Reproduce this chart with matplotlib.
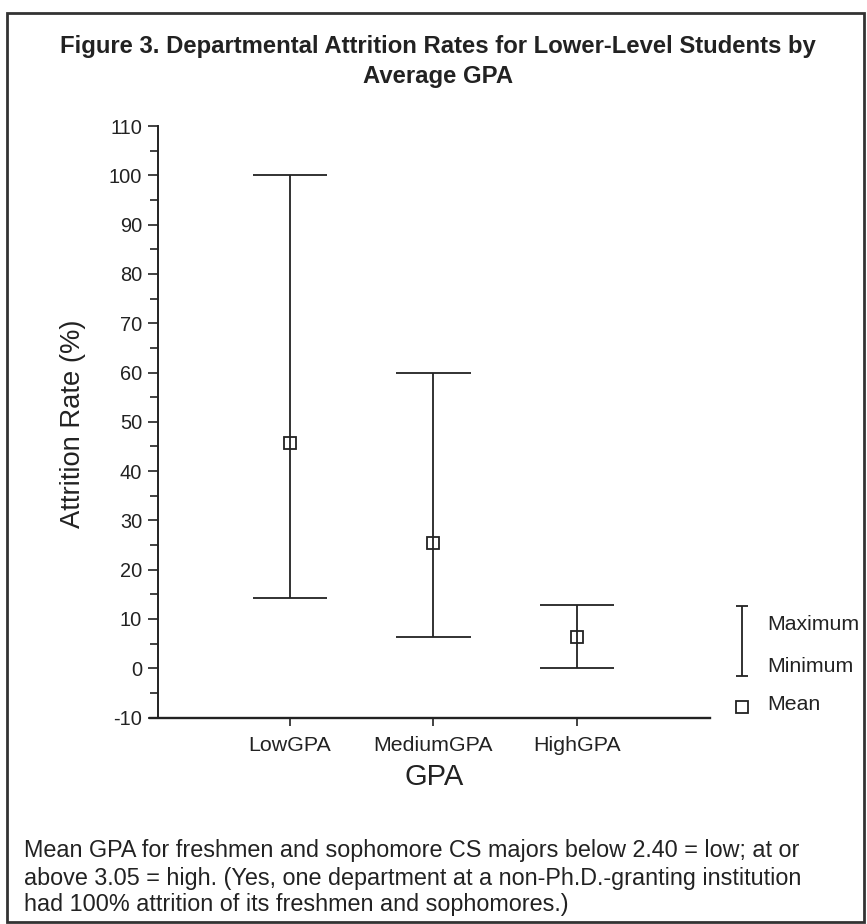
import numpy as np
import matplotlib
matplotlib.use('Agg')
import matplotlib.pyplot as plt
from matplotlib.ticker import MultipleLocator
from matplotlib.patches import Rectangle

plt.rcParams['font.family'] = ['Liberation Sans', 'DejaVu Sans']
plt.rcParams['axes.unicode_minus'] = False

# Datos
grupos = ['LowGPA', 'MediumGPA', 'HighGPA']
maximos = [100, 60, 12.8]
minimos = [14.3, 6.4, 0]
medias = [45.6, 25.5, 6.3]

col = '#222222'
W, H = 867, 924

fig = plt.figure(figsize=(W / 100, H / 100), dpi=100)
ax = fig.add_axes([157.5 / W, 1 - 717.6 / H, (710 - 157.5) / W, (717.6 - 126) / H])

x = np.arange(1, len(grupos) + 1)
ancho = 0.26

# barras min-max con sus topes y el cuadrado de la media
ax.vlines(x, minimos, maximos, color=col, lw=1.3)
ax.hlines(maximos, x - ancho, x + ancho, color=col, lw=1.3)
ax.hlines(minimos, x - ancho, x + ancho, color=col, lw=1.3)
ax.plot(x, medias, 's', ms=9, mfc='none', mec=col, mew=1.3, ls='none')

ax.set_xlim(0.077, 3.927)
ax.set_ylim(-10, 110)
ax.set_xticks(x, grupos)
ax.set_yticks(np.arange(-10, 111, 10))
ax.yaxis.set_minor_locator(MultipleLocator(5))

for s in ['top', 'right', 'bottom']:
    ax.spines[s].set_visible(False)
ax.spines['left'].set_linewidth(1.4)
ax.spines['left'].set_color(col)
ax.axhline(-10, xmin=-0.013, xmax=1, color=col, lw=1.7, clip_on=False)

ax.tick_params(axis='y', which='major', length=7, width=1.2, color=col, labelsize=14.4, pad=4,
               labelcolor=col)
ax.tick_params(axis='y', which='minor', length=5.5, width=1.2, color=col)
ax.tick_params(axis='x', length=6, width=1.2, color=col, labelsize=15.4, pad=7, labelcolor=col)

# Leyenda dibujada a mano
xl = 4.15
ax.vlines(xl, -1.5, 12.6, color=col, lw=1.3, clip_on=False)
ax.hlines([-1.5, 12.6], xl - 0.042, xl + 0.042, color=col, lw=1.3, clip_on=False)
ax.plot([xl], [-7.8], 's', ms=8, mfc='none', mec=col, mew=1.3, clip_on=False)
ax.text(4.324, 8.8, 'Maximum', fontsize=15.3, color=col, va='center', ha='left')
ax.text(4.324, 0.3, 'Minimum', fontsize=15.3, color=col, va='center', ha='left')
ax.text(4.324, -7.4, 'Mean', fontsize=15.3, color=col, va='center', ha='left')

# Textos de la figura
fig.text(438 / W, 1 - 47 / H, 'Figure 3. Departmental Attrition Rates for Lower-Level Students by',
         fontsize=17.2, fontweight='bold', ha='center', va='center', color=col)
fig.text(438 / W, 1 - 77 / H, 'Average GPA',
         fontsize=17.2, fontweight='bold', ha='center', va='center', color=col)
fig.text(73 / W, 1 - 424 / H, 'Attrition Rate (%)', rotation=90, fontsize=19.7,
         ha='center', va='center', color=col)
fig.text(434 / W, 1 - 777 / H, 'GPA', fontsize=21, ha='center', va='center', color=col)

nota = ['Mean GPA for freshmen and sophomore CS majors below 2.40 = low; at or',
        'above 3.05 = high. (Yes, one department at a non-Ph.D.-granting institution',
        'had 100% attrition of its freshmen and sophomores.)']
for i, linea in enumerate(nota):
    fig.text(24 / W, 1 - (851 + 27 * i) / H, linea, fontsize=16.8, ha='left', va='center', color=col)

# Marco exterior
fig.patches.append(Rectangle((7 / W, 2 / H), (864 - 7) / W, (911 - 2) / H, transform=fig.transFigure,
                             fill=False, ec='#333333', lw=2))

fig.savefig('out.png', dpi=100)
